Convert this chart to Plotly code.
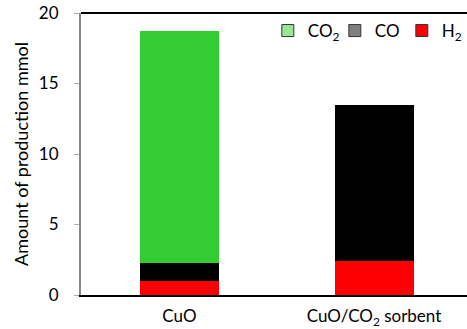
import plotly.graph_objects as go

categories = ["CuO", "CuO/CO<sub>2</sub> sorbent"]
h2 = [1.0, 2.43]
co = [1.27, 11.04]
co2 = [16.43, 0.0]
legend_names = ["CO<sub>2</sub>", "CO", "H<sub>2</sub>"]

fig = go.Figure()
fig.add_bar(x=categories, y=h2, marker=dict(color="#ff0000", line=dict(width=0)), showlegend=False)
fig.add_bar(x=categories, y=co, marker=dict(color="#000000", line=dict(width=0)), showlegend=False)
fig.add_bar(x=categories, y=co2, marker=dict(color="#33cc33", line=dict(width=0)), showlegend=False)
# legend entries
for name, col in zip(legend_names, ["#99e699", "#808080", "#ff0000"]):
    fig.add_bar(x=categories, y=[None, None], name=name,
                marker=dict(color=col, line=dict(color="#333333", width=1)))

fig.update_layout(
    width=467, height=329,
    barmode="stack", bargap=0.594,
    margin=dict(l=81, r=0, t=13, b=34, autoexpand=False),
    paper_bgcolor="white", plot_bgcolor="white",
    font=dict(family="Lato", color="black", size=17),
    legend=dict(orientation="h", x=0.484, xanchor="left", y=1.0, yanchor="top",
                font=dict(size=17), bgcolor="rgba(0,0,0,0)", itemwidth=30,
                entrywidth=22, traceorder="normal", tracegroupgap=0),
    yaxis=dict(range=[0, 20], tickvals=[0, 5, 10, 15, 20], showgrid=False,
               showline=True, linecolor="#888888", linewidth=2,
               ticks="outside", ticklen=5, tickcolor="#aaaaaa",
               tickfont=dict(size=17), ticklabelstandoff=12,
               title=dict(text="Amount of production mmol", font=dict(size=18), standoff=6),
               zeroline=False),
    xaxis=dict(showline=True, linecolor="black", linewidth=2, mirror=False,
               tickfont=dict(size=17), range=[-0.506, 1.478], ticks="", ticklabelstandoff=5),
    shapes=[dict(type="line", xref="paper", yref="paper", x0=0, x1=1, y0=1, y1=1,
                 line=dict(color="black", width=2))],
)
fig.write_html("out.html", config={"displayModeBar": False},
               post_script="document.body.style.margin='0';")
